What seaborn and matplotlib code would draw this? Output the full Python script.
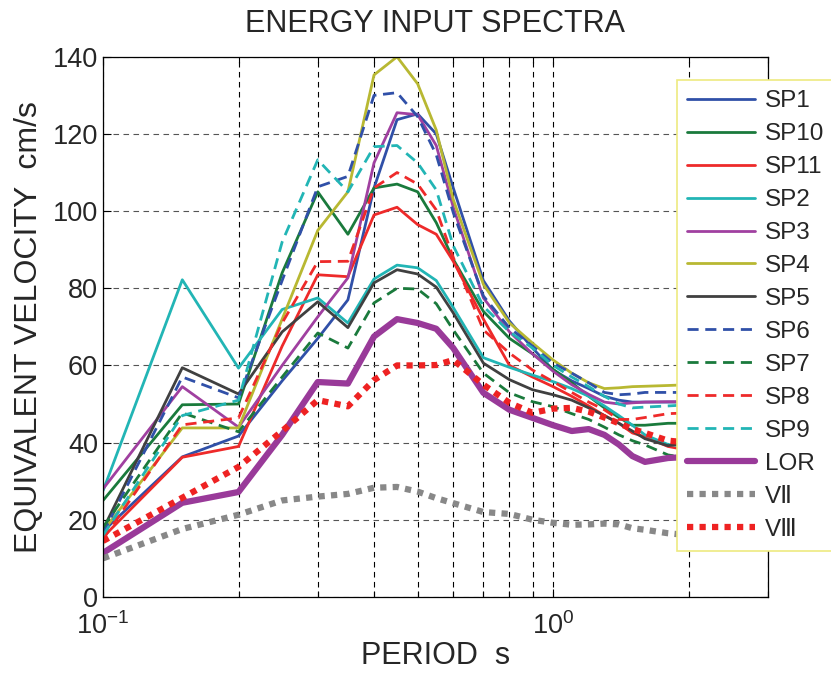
import numpy as np
import pandas as pd
import seaborn as sns
import matplotlib.pyplot as plt
from matplotlib.ticker import FixedLocator, NullFormatter

# periods (s)
periods = [0.1, 0.15, 0.2, 0.25, 0.3, 0.35, 0.4, 0.45, 0.5, 0.55, 0.6,
           0.7, 0.8, 0.9, 1.0, 1.1, 1.2, 1.3, 1.4, 1.5, 1.6, 1.8, 2.0]

# equivalent velocity (cm/s)
sp1 = [17, 36.3, 41.7, 56, 67, 77, 106, 123.7, 125.2, 120, 106,
       82, 71.5, 64.5, 58.8, 56, 54, 52, 51, 50.5, 50.5, 50.5, 50.5]
sp10 = [25, 49.8, 50, 84, 105, 94, 106, 107, 105, 97, 87.5,
        74, 67, 63, 59, 55.5, 52, 49, 46.5, 44.5, 44.5, 45, 45]
sp11 = [15.5, 36.2, 39, 65, 83.5, 83, 99, 101, 96.5, 94, 87,
        72, 60, 57, 54.5, 52, 49.5, 47, 45, 42.5, 41.5, 39, 38]
sp2 = [27.5, 82.2, 59.3, 74.5, 77.5, 71, 82.4, 86, 85.3, 82, 75,
       62, 59.5, 57.5, 55.8, 54, 52, 49.5, 47, 44.5, 42, 39.5, 39]
sp3 = [28, 54.5, 44, 60, 72.6, 82.7, 112.5, 125.5, 125, 117, 101,
       77.5, 68.7, 63, 58.5, 55, 52.5, 50.5, 50, 50.3, 50.5, 50.6, 50.6]
sp4 = [17, 43.8, 43.8, 72, 95, 105, 135.3, 140, 133, 121, 103,
       81, 71, 65.8, 61.4, 58, 55.5, 54, 54.2, 54.5, 54.6, 54.8, 55]
sp5 = [17.5, 59.4, 52.6, 68.7, 76.5, 69.8, 81.4, 84.8, 83.7, 80.3, 73.6,
       60.6, 56.3, 53.7, 52.4, 51, 49, 47, 45, 43, 41, 39.2, 40]
sp6 = [16.5, 57, 51.6, 82, 106.3, 109, 130, 130.7, 124.5, 114.6, 99.6,
       78, 69.7, 65, 60.6, 58, 55.5, 53, 52.4, 52.6, 53, 53, 53]
sp7 = [18, 47.7, 42.8, 57, 68.4, 64.5, 76.2, 80, 79.8, 76, 69.2,
       58, 52.9, 50.6, 49.3, 47.5, 46, 44, 42, 40.5, 39.4, 36.8, 36]
sp8 = [15, 44.6, 46.4, 71, 86.9, 87, 106, 110, 107, 100.3, 88,
       69.2, 63.2, 58.8, 55.8, 53, 50.5, 48.5, 46, 46, 46.5, 47.5, 47.7]
sp9 = [16, 47, 51, 92, 113.3, 105, 116.7, 117, 112.5, 105.5, 91,
       75.3, 68.7, 64.5, 60, 57, 54.5, 52, 50, 49, 49.2, 49.5, 49.8]
lor = [11.4, 24.4, 27.2, 42, 55.7, 55.3, 67.5, 72, 71, 69.5, 64.5,
       52.9, 48.5, 46.4, 44.5, 43, 43.5, 42, 39.5, 36.5, 35, 36, 36.3]
v7 = [10, 17.6, 21.3, 25, 26, 26.7, 28.3, 28.5, 27.3, 25.6, 24.3,
      22, 21.5, 20, 19.2, 18.7, 18.8, 19, 18.8, 17.8, 17.4, 16.5, 16]
v8 = [14.5, 25.7, 33.7, 43, 51, 49.4, 56.2, 60, 60, 60.1, 61.4,
      55, 50.3, 47.7, 48.8, 49, 48, 46.5, 45, 43.5, 42.5, 40.5, 40]

names = ["SP1", "SP10", "SP11", "SP2", "SP3", "SP4", "SP5",
         "SP6", "SP7", "SP8", "SP9", "LOR", "VⅡ", "VⅢ"]
series = [sp1, sp10, sp11, sp2, sp3, sp4, sp5, sp6, sp7, sp8, sp9, lor, v7, v8]

solid = "-"
dash = (0, (4, 2.4))
dot = (0, (1, 1))
styles = {
    "SP1": ("#3050a8", solid, 2.0),
    "SP10": ("#1a7a3c", solid, 2.0),
    "SP11": ("#ee2a2a", solid, 2.0),
    "SP2": ("#22b5b5", solid, 2.0),
    "SP3": ("#a040a0", solid, 2.0),
    "SP4": ("#b8b832", solid, 2.0),
    "SP5": ("#404040", solid, 2.0),
    "SP6": ("#3050a8", dash, 2.0),
    "SP7": ("#1a7a3c", dash, 2.0),
    "SP8": ("#ee2a2a", dash, 2.0),
    "SP9": ("#22b5b5", dash, 2.0),
    "LOR": ("#993a99", solid, 4.5),
    "VⅡ": ("#888888", dot, 4.5),
    "VⅢ": ("#ee2222", dot, 4.5),
}

sns.set_style("ticks")
plt.rcParams["font.family"] = ["Liberation Sans", "DejaVu Sans"]
plt.rcParams["mathtext.default"] = "regular"
plt.rcParams["xtick.direction"] = "in"
plt.rcParams["ytick.direction"] = "in"

fig = plt.figure(figsize=(8.31, 6.76), dpi=100)
ax = fig.add_axes([0.124, 0.117, 0.800, 0.799])

for name, vals in zip(names, series):
    c, ls, lw = styles[name]
    sns.lineplot(x=periods, y=vals, ax=ax, color=c, linestyle=ls,
                 linewidth=lw, label=name, sort=False)

ax.set_xscale("log")
ax.set_xlim(0.1, 3)
ax.set_ylim(0, 140)
ax.set_yticks(range(0, 141, 20))
ax.xaxis.set_major_locator(FixedLocator([0.1, 1]))
ax.set_xticklabels(["$10^{-1}$", "$10^{0}$"])
ax.xaxis.set_minor_locator(FixedLocator([0.2, 0.3, 0.4, 0.5, 0.6, 0.7, 0.8, 0.9, 2, 3]))
ax.xaxis.set_minor_formatter(NullFormatter())
ax.tick_params(axis="both", which="both", top=True, right=True, labelsize=19.5,
               length=6, width=0.8, color="k")
ax.tick_params(axis="x", which="minor", length=4)
ax.tick_params(axis="x", which="major", pad=11)

ax.grid(True, which="both", axis="x", color="k", linestyle=(0, (5, 4)), linewidth=0.8)
ax.grid(True, which="major", axis="y", color="#555555", linestyle=(0, (5, 4)), linewidth=0.8)
for s in ax.spines.values():
    s.set_color("k")
    s.set_linewidth(0.9)

ax.set_title("ENERGY INPUT SPECTRA", fontsize=22, pad=18)
ax.set_xlabel("PERIOD  s", fontsize=22, labelpad=1)
ax.set_ylabel("EQUIVALENT VELOCITY  cm/s", fontsize=23, labelpad=6)

leg = ax.legend(loc="upper left", bbox_to_anchor=(677 / 831, 1 - 80 / 676),
                bbox_transform=fig.transFigure, borderaxespad=0, fontsize=17.5,
                handlelength=2.8, handletextpad=0.4, labelspacing=0.45,
                frameon=True, fancybox=False, borderpad=0.42)
leg.get_frame().set_edgecolor("#eeea80")
leg.get_frame().set_linewidth(1.2)
leg.get_frame().set_facecolor("white")
leg.get_frame().set_alpha(1)

fig.savefig("out.png", dpi=100)
